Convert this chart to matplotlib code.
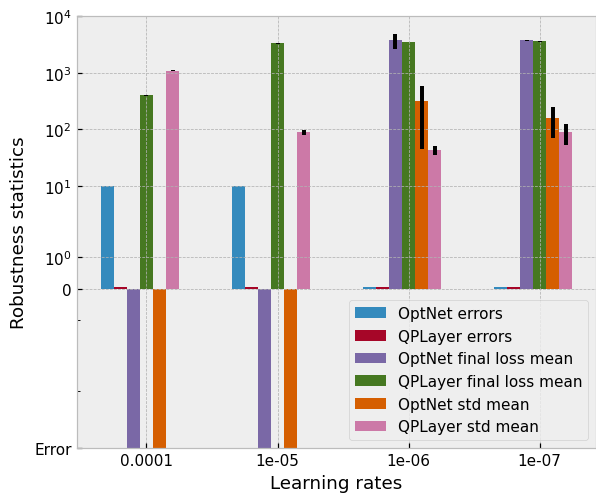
import numpy as np
import matplotlib
matplotlib.use('Agg')
import matplotlib.pyplot as plt
from matplotlib.ticker import FixedLocator

plt.style.use('bmh')

# data (Error = -100, drawn down to the bottom)
learning_rates = ['0.0001', '1e-05', '1e-06', '1e-07']
series_names = ['OptNet errors', 'QPLayer errors', 'OptNet final loss mean',
                'QPLayer final loss mean', 'OptNet std mean', 'QPLayer std mean']
optnet_errors = [10, 10, 0.04, 0.04]
qplayer_errors = [0.04, 0.04, 0.04, 0.04]
optnet_loss = [-100, -100, 3750, 3700]
optnet_loss_err = [0, 0, 1100, 30]
qplayer_loss = [400, 3300, 3450, 3600]
qplayer_loss_err = [8, 60, 40, 60]
optnet_std = [-100, -100, 316, 158]
optnet_std_err = [0, 0, 270, 88]
qplayer_std = [1080, 90, 43, 90]
qplayer_std_err = [25, 9, 7.5, 36]

values = [optnet_errors, qplayer_errors, optnet_loss, qplayer_loss, optnet_std, qplayer_std]
errors = [None, None, optnet_loss_err, qplayer_loss_err, optnet_std_err, qplayer_std_err]

fig = plt.figure(figsize=(596 / 110, 496 / 110), dpi=110)
ax = fig.add_axes([77 / 596, 47 / 496, 519 / 596, 432 / 496])

x = np.arange(len(learning_rates))
width = 0.1
for i in range(len(values)):
    ax.bar(x + (i - 3) * width, values[i], width, label=series_names[i],
           yerr=errors[i], error_kw=dict(ecolor='black', elinewidth=2.6, capsize=0))

ax.set_yscale('symlog', linthresh=2)
ax.set_ylim(-100, 10000)
ax.set_yticks([-100, 0, 1, 10, 100, 1000, 10000])
ax.set_yticklabels(['Error', '0', r'$\mathdefault{10^{0}}$', r'$\mathdefault{10^{1}}$',
                    r'$\mathdefault{10^{2}}$', r'$\mathdefault{10^{3}}$',
                    r'$\mathdefault{10^{4}}$'])
ax.yaxis.set_minor_locator(FixedLocator([-10, -1]))
ax.set_xticks(x)
ax.set_xticklabels(learning_rates)
ax.tick_params(labelsize=10)

ax.set_xlabel('Learning rates', fontsize=12)
ax.set_ylabel('Robustness statistics', fontsize=12)
ax.legend(loc='lower right', fontsize=10)

fig.savefig('out.png', dpi=110)
